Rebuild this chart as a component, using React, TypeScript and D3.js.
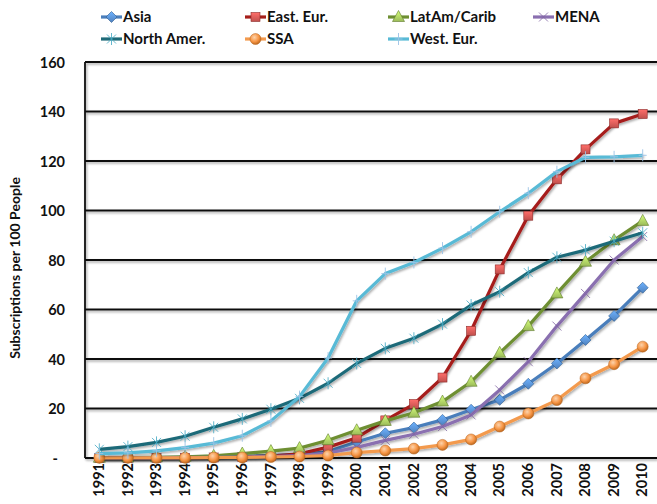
import React from "react";
import * as d3 from "d3";

const years = [
  "1991", "1992", "1993", "1994", "1995", "1996", "1997", "1998", "1999", "2000",
  "2001", "2002", "2003", "2004", "2005", "2006", "2007", "2008", "2009", "2010",
];

const asia = [0.1, 0.1, 0.2, 0.3, 0.5, 0.7, 1.0, 1.5, 2.6, 6.5, 10, 12.3, 15.4, 19.5, 23.5, 30, 38.2, 47.7, 57.4, 68.8];
const eastEur = [0, 0, 0.1, 0.1, 0.2, 0.4, 0.8, 1.7, 4.4, 8.2, 15.2, 21.8, 32.5, 51.4, 76.2, 97.9, 112.6, 124.7, 135.2, 139];
const latAm = [0.1, 0.2, 0.3, 0.5, 0.9, 1.8, 2.8, 4, 7.2, 11.2, 15, 18.3, 22.8, 30.8, 42.5, 53.3, 66.5, 79.3, 88, 95.8];
const mena = [0.1, 0.1, 0.1, 0.2, 0.3, 0.4, 0.6, 1.0, 2.0, 4.3, 7.1, 9.6, 12.7, 17.4, 27.5, 38.9, 53.3, 66.5, 80, 89.5];
const northAmer = [3.5, 4.6, 6.3, 8.8, 12.4, 15.8, 19.7, 24.1, 30.2, 38.2, 44.3, 48.4, 54.1, 61.8, 67.2, 74.9, 81.1, 84, 87.6, 91];
const ssa = [0.1, 0.1, 0.1, 0.1, 0.2, 0.2, 0.4, 0.6, 1.0, 2.2, 3.0, 3.8, 5.3, 7.5, 12.7, 18, 23.4, 32.2, 37.9, 45];
const westEur = [1.8, 2.1, 2.9, 4.2, 6.0, 9.0, 15, 24.8, 40.4, 63.5, 74.5, 79, 84.8, 91.4, 99.5, 107, 115.7, 121.5, 121.7, 122.3];

const yTicks = [0, 20, 40, 60, 80, 100, 120, 140, 160];

type MarkerKind = "diamond" | "square" | "triangle" | "x" | "star" | "circle" | "plus";

interface Series {
  name: string;
  values: number[];
  line: string;
  fill: string;
  dark: string;
  marker: MarkerKind;
}

const series: Series[] = [
  { name: "Asia", values: asia, line: "#4A7EBB", fill: "#4F81BD", dark: "#2C5A8E", marker: "diamond" },
  { name: "East. Eur.", values: eastEur, line: "#A61E1A", fill: "#C0504D", dark: "#8C2A28", marker: "square" },
  { name: "LatAm/Carib", values: latAm, line: "#6E8F32", fill: "#9BBB59", dark: "#5E7A2A", marker: "triangle" },
  { name: "MENA", values: mena, line: "#8A6FB0", fill: "#8064A2", dark: "#8064A2", marker: "x" },
  { name: "North Amer.", values: northAmer, line: "#1F6B79", fill: "#4BACC6", dark: "#4BACC6", marker: "star" },
  { name: "SSA", values: ssa, line: "#F39A4E", fill: "#F79646", dark: "#B5621C", marker: "circle" },
  { name: "West. Eur.", values: westEur, line: "#58BAD6", fill: "#9DC3E6", dark: "#8FB4DA", marker: "plus" },
];

const W = 657;
const H = 504;
const plotLeft = 85;
const plotRight = 657;
const plotTop = 62;
const plotBottom = 458;

const FONT = "Lato, 'Open Sans', sans-serif";

function Marker({ s, x, y }: { s: Series; x: number; y: number }) {
  const gid = `grad-${s.marker}`;
  switch (s.marker) {
    case "diamond":
      return (
        <path
          d={`M${x},${y - 5.5}L${x + 5.5},${y}L${x},${y + 5.5}L${x - 5.5},${y}Z`}
          fill={`url(#${gid})`}
          stroke={s.dark}
          strokeWidth={0.6}
        />
      );
    case "square":
      return (
        <rect x={x - 4.5} y={y - 4.5} width={9} height={9} fill={`url(#${gid})`} stroke={s.dark} strokeWidth={0.6} />
      );
    case "triangle":
      return (
        <path
          d={`M${x},${y - 6.5}L${x + 6},${y + 4.5}L${x - 6},${y + 4.5}Z`}
          fill={`url(#${gid})`}
          stroke={s.dark}
          strokeWidth={0.6}
        />
      );
    case "circle":
      return <circle cx={x} cy={y} r={5.5} fill={`url(#${gid})`} stroke={s.dark} strokeWidth={0.5} />;
    case "x":
      return (
        <path
          d={`M${x - 4.5},${y - 4.5}L${x + 4.5},${y + 4.5}M${x - 4.5},${y + 4.5}L${x + 4.5},${y - 4.5}`}
          stroke={s.fill}
          strokeWidth={1}
          opacity={0.8}
        />
      );
    case "star":
      return (
        <path
          d={`M${x - 4.5},${y - 4.5}L${x + 4.5},${y + 4.5}M${x - 4.5},${y + 4.5}L${x + 4.5},${y - 4.5}M${x},${y - 6}L${x},${y + 6}`}
          stroke={s.fill}
          strokeWidth={1}
          opacity={0.85}
        />
      );
    case "plus":
      return (
        <path
          d={`M${x},${y - 6}L${x},${y + 6}M${x - 4},${y}L${x + 4},${y}`}
          stroke={s.fill}
          strokeWidth={1}
          opacity={0.9}
        />
      );
  }
  return null;
}

export default function App() {
  const x = d3.scalePoint<string>().domain(years).range([plotLeft, plotRight]).padding(0.5);
  const y = d3.scaleLinear().domain([0, 160]).range([plotBottom, plotTop]);

  const line = d3
    .line<number>()
    .x((_, i) => x(years[i]) as number)
    .y((v) => y(v));

  const legendCols = [123, 267, 410, 555];
  const legendRows = [17, 39];

  const gradients: [string, string, string][] = series
    .filter((s) => ["diamond", "square", "triangle", "circle"].includes(s.marker))
    .map((s) => [`grad-${s.marker}`, d3.color(s.fill)!.brighter(0.9).formatHex(), s.fill]);

  return (
    <svg width={W} height={H} style={{ display: "block", position: "absolute", left: 0, top: 0 }}>
      <defs>
        <filter id="shadow" x="-5%" y="-5%" width="110%" height="110%">
          <feDropShadow dx={1.2} dy={1.6} stdDeviation={1} floodColor="#000" floodOpacity={0.35} />
        </filter>
        {gradients.map(([id, light, base]) =>
          id === "grad-circle" ? (
            <radialGradient key={id} id={id} cx="40%" cy="35%" r="65%">
              <stop offset="0%" stopColor="#FCD3AC" />
              <stop offset="60%" stopColor={base} />
              <stop offset="100%" stopColor="#C06A20" />
            </radialGradient>
          ) : (
            <linearGradient key={id} id={id} x1="0" y1="0" x2="0" y2="1">
              <stop offset="0%" stopColor={light} />
              <stop offset="100%" stopColor={base} />
            </linearGradient>
          )
        )}
      </defs>
      <rect width={W} height={H} fill="#fff" />

      {/* horizontal gridlines */}
      <g filter="url(#shadow)">
        {yTicks.map((t) => (
          <line key={t} x1={plotLeft} x2={plotRight} y1={y(t)} y2={y(t)} stroke="#111" strokeWidth={1.8} />
        ))}
        <line x1={plotLeft} x2={plotLeft} y1={plotTop} y2={plotBottom} stroke="#111" strokeWidth={1.8} />
      </g>

      {/* y tick labels */}
      {yTicks.map((t) => (
        <text
          key={t}
          x={t === 0 ? 58 : 65}
          y={y(t) + 2}
          textAnchor="end"
          dominantBaseline="middle"
          fontFamily={FONT}
          fontWeight="bold"
          fontSize={14.5}
          fill="#111"
        >
          {t === 0 ? "-" : t}
        </text>
      ))}

      {/* y axis title */}
      <text
        transform={`translate(16,${(plotTop + plotBottom) / 2 + 8}) rotate(-90)`}
        textAnchor="middle"
        dominantBaseline="middle"
        fontFamily={FONT}
        fontWeight="bold"
        fontSize={14}
        fill="#111"
      >
        Subscriptions per 100 People
      </text>

      {/* x tick labels */}
      {years.map((yr) => (
        <text
          key={yr}
          transform={`translate(${(x(yr) as number) + 1},${plotBottom + 5}) rotate(-90)`}
          textAnchor="end"
          dominantBaseline="middle"
          fontFamily={FONT}
          fontWeight="bold"
          fontSize={14.5}
          fill="#111"
        >
          {yr}
        </text>
      ))}

      {/* series lines and markers */}
      {series.map((s) => (
        <g key={s.name}>
          <path d={line(s.values) ?? ""} fill="none" stroke={s.line} strokeWidth={3.2} strokeLinejoin="round" filter="url(#shadow)" />
          {s.values.map((v, i) => (
            <Marker key={i} s={s} x={x(years[i]) as number} y={y(v)} />
          ))}
        </g>
      ))}

      {/* legend */}
      {series.map((s, i) => {
        const col = legendCols[i % 4];
        const row = legendRows[Math.floor(i / 4)];
        const lx1 = col - 22;
        const lx2 = col - 1;
        return (
          <g key={s.name}>
            <line x1={lx1} x2={lx2} y1={row} y2={row} stroke={s.line} strokeWidth={3.2} />
            <Marker s={s} x={(lx1 + lx2) / 2} y={row} />
            <text x={col} y={row + 1} dominantBaseline="middle" fontFamily={FONT} fontWeight="bold" fontSize={15} fill="#111">
              {s.name}
            </text>
          </g>
        );
      })}
    </svg>
  );
}
